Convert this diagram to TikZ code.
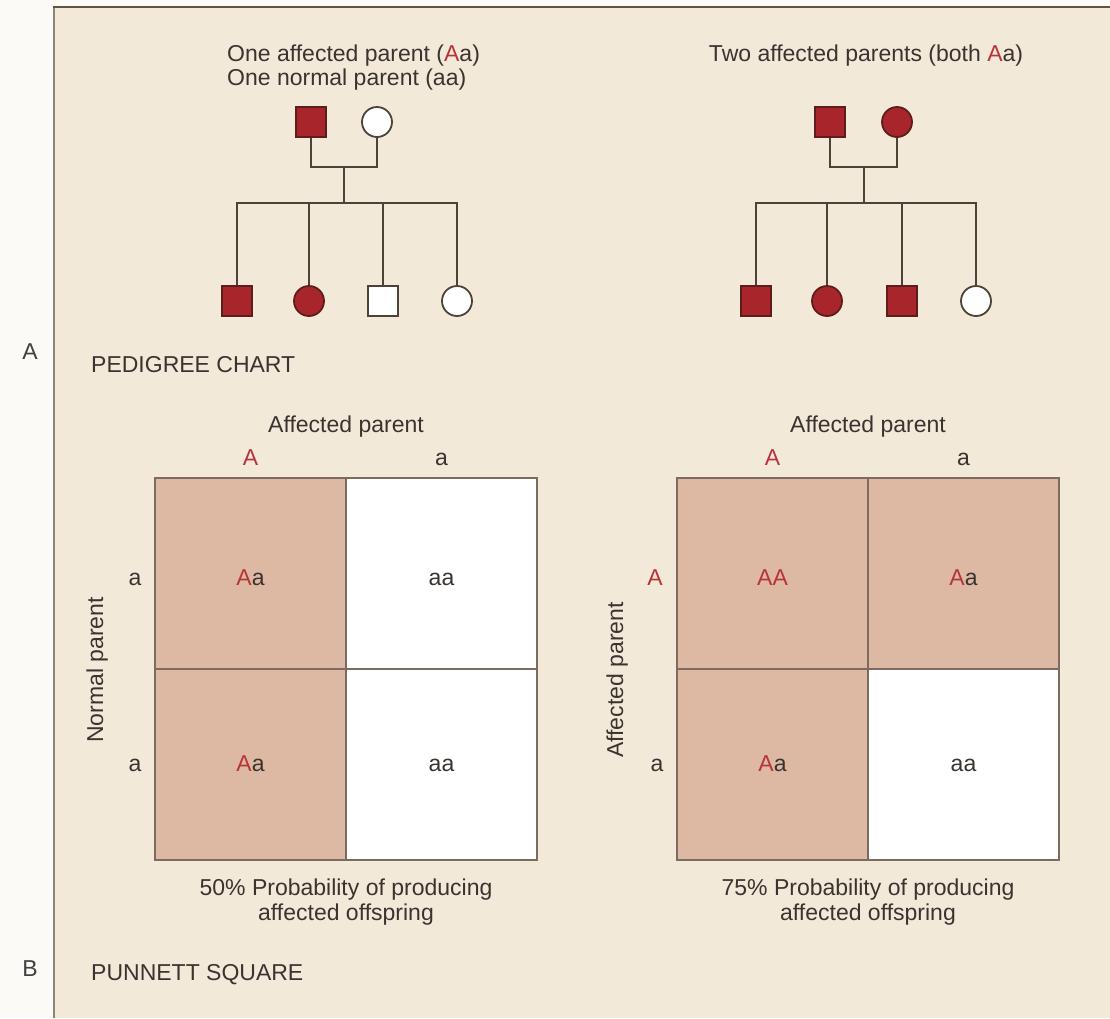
\documentclass[tikz,border=0pt]{standalone}
\usepackage{fontspec}
\setmainfont{Liberation Sans}
\definecolor{panel}{HTML}{F3E9D9}
\definecolor{marg}{HTML}{FCFAF6}
\definecolor{pedred}{HTML}{A8262B}
\definecolor{pededge}{HTML}{5E1D1B}
\definecolor{lin}{HTML}{4D4238}
\definecolor{cellfill}{HTML}{DDB8A2}
\definecolor{gridcol}{HTML}{7C6B5E}
\definecolor{txt}{HTML}{3A3430}
\definecolor{alred}{HTML}{B7343A}
\definecolor{frameleft}{HTML}{8C8276}
\definecolor{frametop}{HTML}{5E5348}
\begin{document}
\begin{tikzpicture}[x=1pt,y=-1pt,
  every node/.style={font=\fontsize{23}{26}\selectfont, text=txt, inner sep=0pt},
  male/.style={rectangle, draw=pededge, line width=1.8pt, minimum size=30pt, inner sep=0pt},
  female/.style={circle, draw=pededge, line width=1.8pt, minimum size=30pt, inner sep=0pt},
  aff/.style={fill=pedred},
  unaff/.style={fill=white, draw=lin},
  pline/.style={draw=lin, line width=2.8pt},
  lbl/.style={anchor=base},
  cell/.style={rectangle, draw=gridcol, line width=2pt, minimum width=191pt, minimum height=191pt},
  shaded/.style={fill=cellfill},
  plain/.style={fill=white},
]
\useasboundingbox (0,0) rectangle (1110,1018);
\fill[marg] (0,0) rectangle (1110,1018);
\fill[panel] (53,7) rectangle (1110,1018);
\draw[frameleft, line width=2pt] (53.5,7) -- (53.5,1018);
\draw[frametop, line width=2.5pt] (52.5,7) -- (1110,7);

% side labels
\node[lbl, text=black!75] (labA) at (30,359) {A};
\node[lbl, text=black!75] (labB) at (30,976) {B};
\node[lbl, anchor=base west] (pedtitle) at (91,372) {PEDIGREE CHART};
\node[lbl, anchor=base west] (puntitle) at (91,980) {PUNNETT SQUARE};

% ---------- left pedigree ----------
\node[lbl, anchor=base west] (lt1) at (227,61.5) {One affected parent (\textcolor{alred}{A}a)};
\node[lbl, anchor=base west] (lt2) at (227,85) {One normal parent (aa)};
\node[male,aff] (L1) at (311,122) {};
\node[female,unaff] (L2) at (377,122) {};
\coordinate (Lm) at (344,167);
\coordinate (Ls) at (344,203);
\node[male,aff] (Lc1) at (237,301) {};
\node[female,aff] (Lc2) at (309,301) {};
\node[male,unaff] (Lc3) at (383,301) {};
\node[female,unaff] (Lc4) at (457,301) {};
\draw[pline] (L1.south) |- (Lm) -| (L2.south);
\draw[pline] (Lm) -- (Ls);
\draw[pline] (Lc1.north) |- (Ls) -| (Lc4.north);
\draw[pline] (Lc2.north) -- (Lc2.north |- Ls);
\draw[pline] (Lc3.north) -- (Lc3.north |- Ls);

% ---------- right pedigree ----------
\node[lbl] (rt1) at (866,61.5) {Two affected parents (both \textcolor{alred}{A}a)};
\node[male,aff] (R1) at (830,122) {};
\node[female,aff] (R2) at (897,122) {};
\coordinate (Rm) at (864,167);
\coordinate (Rs) at (864,203);
\node[male,aff] (Rc1) at (756,301) {};
\node[female,aff] (Rc2) at (827,301) {};
\node[male,aff] (Rc3) at (902,301) {};
\node[female,unaff] (Rc4) at (976,301) {};
\draw[pline] (R1.south) |- (Rm) -| (R2.south);
\draw[pline] (Rm) -- (Rs);
\draw[pline] (Rc1.north) |- (Rs) -| (Rc4.north);
\draw[pline] (Rc2.north) -- (Rc2.north |- Rs);
\draw[pline] (Rc3.north) -- (Rc3.north |- Rs);

% ---------- left Punnett square ----------
\node[lbl] (lh) at (346,432) {Affected parent};
\node[lbl, text=alred] (lcA) at (250.5,465) {A};
\node[lbl] (lca) at (441.5,465) {a};
\node[lbl] (lra1) at (135,585) {a};
\node[lbl] (lra2) at (135,771) {a};
\node[lbl, rotate=90] (lv) at (103,670) {Normal parent};
\node[cell,shaded] (L11) at (250.5,573.5) {};
\node[cell,plain] (L12) at (441.5,573.5) {};
\node[cell,shaded] (L21) at (250.5,764.5) {};
\node[cell,plain] (L22) at (441.5,764.5) {};
\node[lbl] (t11) at (250.5,585) {\textcolor{alred}{A}a};
\node[lbl] (t12) at (441.5,585) {aa};
\node[lbl] (t21) at (250.5,771) {\textcolor{alred}{A}a};
\node[lbl] (t22) at (441.5,771) {aa};
\node[lbl] (lcap1) at (346,895) {50\% Probability of producing};
\node[lbl] (lcap2) at (346,920) {affected offspring};

% ---------- right Punnett square ----------
\node[lbl] (rh) at (868,432) {Affected parent};
\node[lbl, text=alred] (rcA) at (772.5,465) {A};
\node[lbl] (rca) at (963.5,465) {a};
\node[lbl, text=alred] (rrA) at (655,585) {A};
\node[lbl] (rra) at (657,771) {a};
\node[lbl, rotate=90] (rv) at (623,680) {Affected parent};
\node[cell,shaded] (R11) at (772.5,573.5) {};
\node[cell,shaded] (R12) at (963.5,573.5) {};
\node[cell,shaded] (R21) at (772.5,764.5) {};
\node[cell,plain] (R22) at (963.5,764.5) {};
\node[lbl] (s11) at (772.5,585) {\textcolor{alred}{AA}};
\node[lbl] (s12) at (963.5,585) {\textcolor{alred}{A}a};
\node[lbl] (s21) at (772.5,771) {\textcolor{alred}{A}a};
\node[lbl] (s22) at (963.5,771) {aa};
\node[lbl] (rcap1) at (868,895) {75\% Probability of producing};
\node[lbl] (rcap2) at (868,920) {affected offspring};
\end{tikzpicture}
\end{document}
